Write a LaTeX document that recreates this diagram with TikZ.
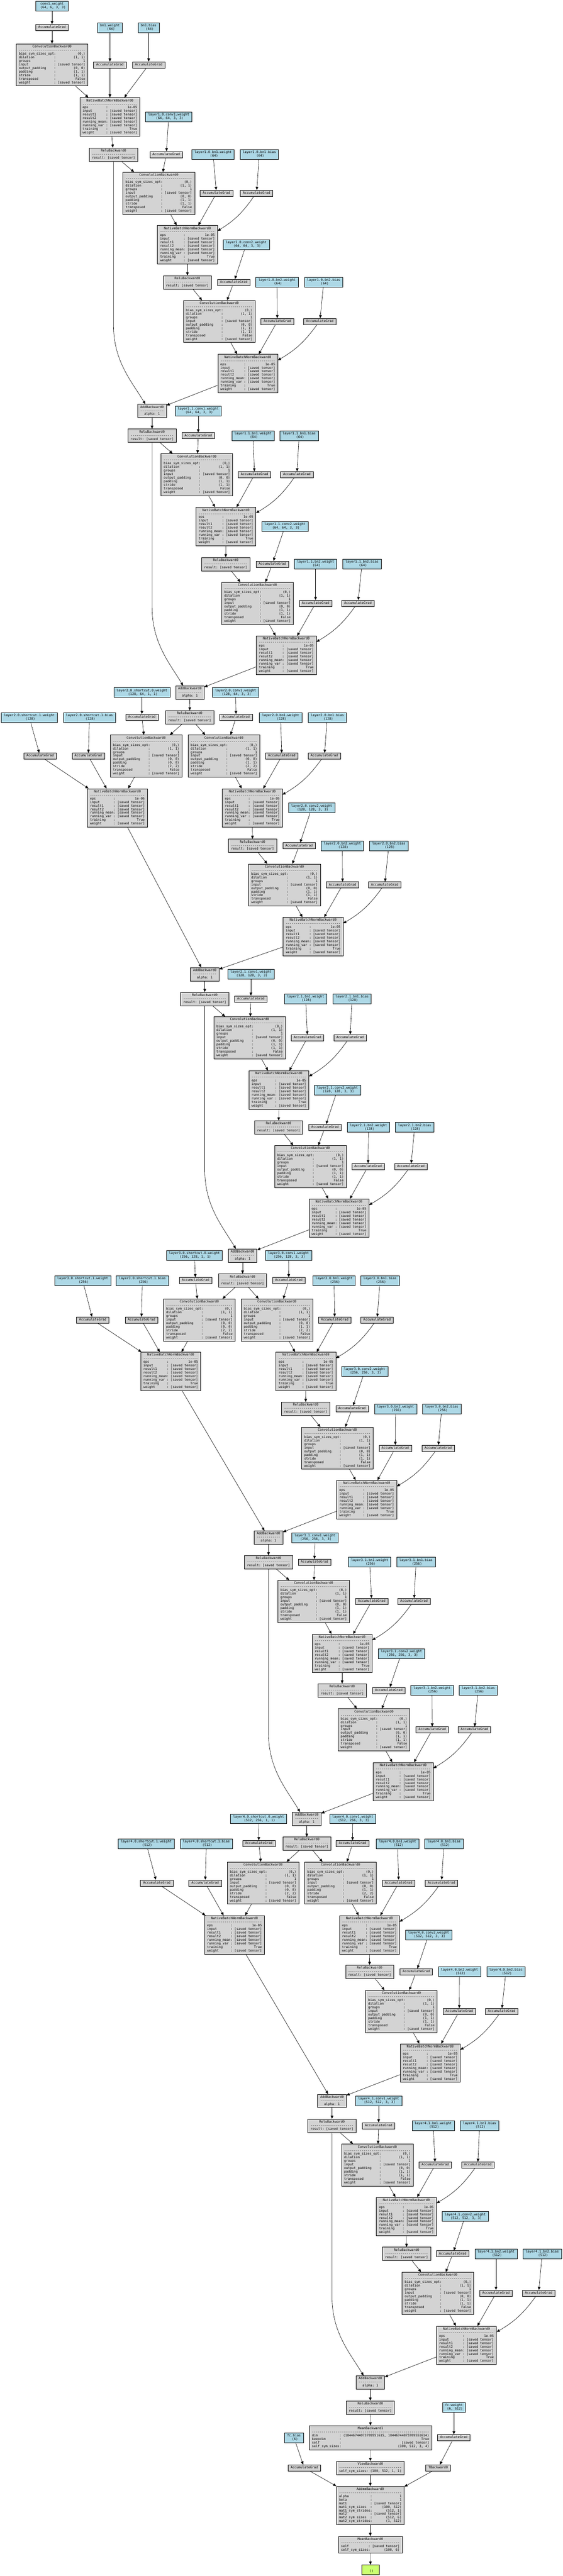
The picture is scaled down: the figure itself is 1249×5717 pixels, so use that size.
\documentclass[tikz,border=0pt]{standalone}
\usepackage{fontspec}
\setmonofont{DejaVu Sans Mono}
\usetikzlibrary{arrows.meta,calc}
\definecolor{tvblue}{HTML}{ADD8E6}
\definecolor{tvgrey}{HTML}{D3D3D3}
\definecolor{tvgreen}{HTML}{CAFF70}
\newlength\tvcw
\newcommand\tvfont{\ttfamily\fontsize{7.2}{7.95}\selectfont\settowidth{\tvcw}{0}}
\newcommand\tvkv[4]{\makebox[#3\tvcw][l]{#1}:\ \makebox[#4\tvcw][r]{#2}}
\newcommand\tvlines[1]{\begin{tabular}{@{}c@{}}#1\end{tabular}}
\ExplSyntaxOn
\cs_new:Npn \tvdash #1 { \prg_replicate:nn {#1} { - \kern 0pt } }
\ExplSyntaxOff
\tikzset{
  tvbox/.style={draw=black, line width=0.7pt, inner xsep=5.8pt, inner ysep=2.9pt,
                minimum width=39pt, font=\tvfont, text=black},
  fn/.style={tvbox, fill=tvgrey},
  param/.style={tvbox, fill=tvblue},
  outn/.style={tvbox, fill=tvgreen},
  conn/.style={draw=black, line width=0.7pt, -{Triangle[length=7pt,width=6pt]}}
}
\newcommand\mkParam[5]{\node[param] (#1) at (#2,#3) {\tvlines{#4\\\ #5}};}
\newcommand\mkAcc[3]{\node[fn] (#1) at (#2,#3) {\tvlines{AccumulateGrad}};}
\newcommand\mkRelu[3]{\node[fn] (#1) at (#2,#3) {\tvlines{ReluBackward0\\\tvdash{22}\\\tvkv{result}{[saved tensor]}{6}{14}}};}
\newcommand\mkAdd[3]{\node[fn] (#1) at (#2,#3) {\tvlines{AddBackward0\\\tvdash{12}\\\tvkv{alpha}{1}{5}{1}}};}
\newcommand\mkBN[3]{\node[fn] (#1) at (#2,#3) {\tvlines{NativeBatchNormBackward0\\\tvdash{28}\\
\tvkv{eps}{1e-05}{12}{14}\\
\tvkv{input}{[saved tensor]}{12}{14}\\
\tvkv{result1}{[saved tensor]}{12}{14}\\
\tvkv{result2}{[saved tensor]}{12}{14}\\
\tvkv{running\_mean}{[saved tensor]}{12}{14}\\
\tvkv{running\_var}{[saved tensor]}{12}{14}\\
\tvkv{training}{True}{12}{14}\\
\tvkv{weight}{[saved tensor]}{12}{14}}};}
\newcommand\mkConv[5]{\node[fn] (#1) at (#2,#3) {\tvlines{ConvolutionBackward0\\\tvdash{34}\\
\tvkv{bias\_sym\_sizes\_opt}{(0,)}{18}{14}\\
\tvkv{dilation}{(1, 1)}{18}{14}\\
\tvkv{groups}{1}{18}{14}\\
\tvkv{input}{[saved tensor]}{18}{14}\\
\tvkv{output\_padding}{(0, 0)}{18}{14}\\
\tvkv{padding}{#4}{18}{14}\\
\tvkv{stride}{#5}{18}{14}\\
\tvkv{transposed}{False}{18}{14}\\
\tvkv{weight}{[saved tensor]}{18}{14}}};}
\begin{document}
\begin{tikzpicture}[x=1pt,y=-1pt]
\useasboundingbox (0,0) rectangle (1249,5717);
\fill[white] (0,0) rectangle (1249,5717);
% ---- stem
\mkParam{pC1w}{115.5}{13.5}{conv1.weight}{(64, 6, 3, 3)}
\mkAcc{aC1w}{115.5}{61}
\mkParam{pBn1w}{244}{61}{bn1.weight}{(64)}
\mkParam{pBn1b}{330}{61}{bn1.bias}{(64)}
\mkConv{cv1}{115.5}{144}{(1, 1)}{(1, 1)}
\mkAcc{aBn1w}{244}{144}
\mkAcc{aBn1b}{330}{144}
\mkBN{bn1}{244}{259.5}
\mkParam{pL10c1w}{374.5}{259.5}{layer1.0.conv1.weight}{(64, 64, 3, 3)}
\mkRelu{r1}{252}{343}
\mkAcc{aL10c1w}{369}{343}
\mkParam{pL10b1w}{473}{343}{layer1.0.bn1.weight}{(64)}
\mkParam{pL10b1b}{575.5}{343}{layer1.0.bn1.bias}{(64)}
% ---- layer1.0
\mkConv{cvL10c1}{352.5}{429}{(1, 1)}{(1, 1)}
\mkAcc{aL10b1w}{480.5}{429}
\mkAcc{aL10b1b}{569.5}{429}
\mkBN{bnL10b1}{416}{543}
\mkParam{pL10c2w}{546.5}{543}{layer1.0.conv2.weight}{(64, 64, 3, 3)}
\mkRelu{rL10}{416}{626.5}
\mkAcc{aL10c2w}{519}{626.5}
\mkParam{pL10b2w}{615}{626.5}{layer1.0.bn2.weight}{(64)}
\mkParam{pL10b2b}{718.5}{626.5}{layer1.0.bn2.bias}{(64)}
\mkConv{cvL10c2}{486.5}{713.5}{(1, 1)}{(1, 1)}
\mkAcc{aL10b2w}{615.5}{713.5}
\mkAcc{aL10b2b}{710}{713.5}
\mkBN{bnL10b2}{550}{829}
\mkAdd{addL10}{337.5}{912}
\mkParam{pL11c1w}{440}{912}{layer1.1.conv1.weight}{(64, 64, 3, 3)}
% ---- layer1.1
\mkRelu{rAddL10}{337.5}{967}
\mkAcc{aL11c1w}{440}{967}
\mkParam{pL11b1w}{561.5}{967}{layer1.1.bn1.weight}{(64)}
\mkParam{pL11b1b}{664}{967}{layer1.1.bn1.bias}{(64)}
\mkConv{cvL11c1}{437}{1053.5}{(1, 1)}{(1, 1)}
\mkAcc{aL11b1w}{565}{1053.5}
\mkAcc{aL11b1b}{659}{1053.5}
\mkBN{bnL11b1}{501.5}{1168.5}
\mkParam{pL11c2w}{632.5}{1168.5}{layer1.1.conv2.weight}{(64, 64, 3, 3)}
\mkRelu{rL11}{501}{1252}
\mkAcc{aL11c2w}{604.5}{1252}
\mkParam{pL11b2w}{700.5}{1252}{layer1.1.bn2.weight}{(64)}
\mkParam{pL11b2b}{803.5}{1252}{layer1.1.bn2.bias}{(64)}
\mkConv{cvL11c2}{571.5}{1339}{(1, 1)}{(1, 1)}
\mkAcc{aL11b2w}{700.5}{1339}
\mkAcc{aL11b2b}{794.5}{1339}
\mkBN{bnL11b2}{635.5}{1454}
\mkAdd{addL11}{421.5}{1537}
\mkParam{pL20s0w}{315}{1537}{layer2.0.shortcut.0.weight}{(128, 64, 1, 1)}
\mkParam{pL20c1w}{523}{1537}{layer2.0.conv1.weight}{(128, 64, 3, 3)}
% ---- layer2.0
\mkRelu{rAddL11}{421}{1592}
\mkAcc{aL20s0w}{315}{1592}
\mkAcc{aL20c1w}{524}{1592}
\mkParam{pL20s1w}{65}{1592}{layer2.0.shortcut.1.weight}{(128)}
\mkParam{pL20s1b}{198.5}{1592}{layer2.0.shortcut.1.bias}{(128)}
\mkParam{pL20b1w}{623}{1592}{layer2.0.bn1.weight}{(128)}
\mkParam{pL20b1b}{726.5}{1592}{layer2.0.bn1.bias}{(128)}
\mkConv{cvL20s}{324.5}{1678}{(0, 0)}{(2, 2)}
\mkConv{cvL20c1}{497}{1678}{(1, 1)}{(2, 2)}
\mkAcc{aL20s1w}{89}{1678}
\mkAcc{aL20s1b}{196}{1678}
\mkAcc{aL20b1w}{625.5}{1678}
\mkAcc{aL20b1b}{720}{1678}
\mkBN{bnL20s}{260.5}{1793}
\mkBN{bnL20b1}{560}{1793}
\mkParam{pL20c2w}{692}{1793}{layer2.0.conv2.weight}{(128, 128, 3, 3)}
\mkRelu{rL20}{560.5}{1877}
\mkAcc{aL20c2w}{664}{1877}
\mkParam{pL20b2w}{760}{1877}{layer2.0.bn2.weight}{(128)}
\mkParam{pL20b2b}{863}{1877}{layer2.0.bn2.bias}{(128)}
\mkConv{cvL20c2}{631.5}{1964}{(1, 1)}{(1, 1)}
\mkAcc{aL20b2w}{760.5}{1964}
\mkAcc{aL20b2b}{854}{1964}
\mkBN{bnL20b2}{695}{2078.5}
\mkAdd{addL20}{454.5}{2162}
\mkParam{pL21c1w}{557}{2162}{layer2.1.conv1.weight}{(128, 128, 3, 3)}
% ---- layer2.1
\mkRelu{rAddL20}{454.5}{2217}
\mkAcc{aL21c1w}{557}{2217}
\mkParam{pL21b1w}{678.5}{2217}{layer2.1.bn1.weight}{(128)}
\mkParam{pL21b1b}{781.5}{2217}{layer2.1.bn1.bias}{(128)}
\mkConv{cvL21c1}{554}{2303}{(1, 1)}{(1, 1)}
\mkAcc{aL21b1w}{682.5}{2303}
\mkAcc{aL21b1b}{777}{2303}
\mkBN{bnL21b1}{619}{2419}
\mkParam{pL21c2w}{749}{2419}{layer2.1.conv2.weight}{(128, 128, 3, 3)}
\mkRelu{rL21}{618.5}{2502}
\mkAcc{aL21c2w}{721.5}{2502}
\mkParam{pL21b2w}{818}{2502}{layer2.1.bn2.weight}{(128)}
\mkParam{pL21b2b}{920.5}{2502}{layer2.1.bn2.bias}{(128)}
\mkConv{cvL21c2}{689}{2589}{(1, 1)}{(1, 1)}
\mkAcc{aL21b2w}{817}{2589}
\mkAcc{aL21b2b}{912}{2589}
\mkBN{bnL21b2}{752.5}{2703.5}
\mkAdd{addL21}{538.5}{2786.5}
\mkParam{pL30s0w}{431.5}{2786.5}{layer3.0.shortcut.0.weight}{(256, 128, 1, 1)}
\mkParam{pL30c1w}{640.5}{2786.5}{layer3.0.conv1.weight}{(256, 128, 3, 3)}
% ---- layer3.0
\mkRelu{rAddL21}{538.5}{2842}
\mkAcc{aL30s0w}{434}{2842}
\mkAcc{aL30c1w}{641}{2842}
\mkParam{pL30s1w}{183.5}{2842}{layer3.0.shortcut.1.weight}{(256)}
\mkParam{pL30s1b}{316}{2842}{layer3.0.shortcut.1.bias}{(256)}
\mkParam{pL30b1w}{741.5}{2842}{layer3.0.bn1.weight}{(256)}
\mkParam{pL30b1b}{843.5}{2842}{layer3.0.bn1.bias}{(256)}
\mkConv{cvL30s}{442.5}{2929.5}{(0, 0)}{(2, 2)}
\mkConv{cvL30c1}{615}{2929.5}{(1, 1)}{(2, 2)}
\mkAcc{aL30s1w}{206}{2929.5}
\mkAcc{aL30s1b}{314}{2929.5}
\mkAcc{aL30b1w}{743}{2929.5}
\mkAcc{aL30b1b}{837}{2929.5}
\mkBN{bnL30s}{379}{3043.5}
\mkBN{bnL30b1}{679}{3043.5}
\mkParam{pL30c2w}{809.5}{3043.5}{layer3.0.conv2.weight}{(256, 256, 3, 3)}
\mkRelu{rL30}{678.5}{3126.5}
\mkAcc{aL30c2w}{781.5}{3126.5}
\mkParam{pL30b2w}{878}{3126.5}{layer3.0.bn2.weight}{(256)}
\mkParam{pL30b2b}{980.5}{3126.5}{layer3.0.bn2.bias}{(256)}
\mkConv{cvL30c2}{749}{3214}{(1, 1)}{(1, 1)}
\mkAcc{aL30b2w}{877.5}{3214}
\mkAcc{aL30b2b}{972.5}{3214}
\mkBN{bnL30b2}{814}{3328}
\mkAdd{addL30}{596}{3412.5}
\mkParam{pL31c1w}{699}{3412.5}{layer3.1.conv1.weight}{(256, 256, 3, 3)}
% ---- layer3.1
\mkRelu{rAddL30}{596}{3467}
\mkAcc{aL31c1w}{698}{3467}
\mkParam{pL31b1w}{820.5}{3467}{layer3.1.bn1.weight}{(256)}
\mkParam{pL31b1b}{923.5}{3467}{layer3.1.bn1.bias}{(256)}
\mkConv{cvL31c1}{696}{3554}{(1, 1)}{(1, 1)}
\mkAcc{aL31b1w}{825}{3554}
\mkAcc{aL31b1b}{919}{3554}
\mkBN{bnL31b1}{759.5}{3669.5}
\mkParam{pL31c2w}{891}{3669.5}{layer3.1.conv2.weight}{(256, 256, 3, 3)}
\mkRelu{rL31}{759.5}{3751.5}
\mkAcc{aL31c2w}{863}{3751.5}
\mkParam{pL31b2w}{959}{3751.5}{layer3.1.bn2.weight}{(256)}
\mkParam{pL31b2b}{1061.5}{3751.5}{layer3.1.bn2.bias}{(256)}
\mkConv{cvL31c2}{830}{3839}{(1, 1)}{(1, 1)}
\mkAcc{aL31b2w}{959.5}{3839}
\mkAcc{aL31b2b}{1053}{3839}
\mkBN{bnL31b2}{895}{3954}
\mkAdd{addL31}{681}{4036.5}
\mkParam{pL40s0w}{574}{4036.5}{layer4.0.shortcut.0.weight}{(512, 256, 1, 1)}
\mkParam{pL40c1w}{783}{4036.5}{layer4.0.conv1.weight}{(512, 256, 3, 3)}
% ---- layer4.0
\mkRelu{rAddL31}{681}{4091.5}
\mkAcc{aL40s0w}{574.5}{4091.5}
\mkAcc{aL40c1w}{782.5}{4091.5}
\mkParam{pL40s1w}{324.5}{4091.5}{layer4.0.shortcut.1.weight}{(512)}
\mkParam{pL40s1b}{458}{4091.5}{layer4.0.shortcut.1.bias}{(512)}
\mkParam{pL40b1w}{882.5}{4091.5}{layer4.0.bn1.weight}{(512)}
\mkParam{pL40b1b}{985.5}{4091.5}{layer4.0.bn1.bias}{(512)}
\mkConv{cvL40s}{584}{4179}{(0, 0)}{(2, 2)}
\mkConv{cvL40c1}{756}{4179}{(1, 1)}{(2, 2)}
\mkAcc{aL40s1w}{348}{4179}
\mkAcc{aL40s1b}{455.5}{4179}
\mkAcc{aL40b1w}{885}{4179}
\mkAcc{aL40b1b}{980}{4179}
\mkBN{bnL40s}{520.5}{4294}
\mkBN{bnL40b1}{820}{4294}
\mkParam{pL40c2w}{951.5}{4294}{layer4.0.conv2.weight}{(512, 512, 3, 3)}
\mkRelu{rL40}{820.5}{4376}
\mkAcc{aL40c2w}{924}{4376}
\mkParam{pL40b2w}{1020}{4376}{layer4.0.bn2.weight}{(512)}
\mkParam{pL40b2b}{1123}{4376}{layer4.0.bn2.bias}{(512)}
\mkConv{cvL40c2}{891}{4464}{(1, 1)}{(1, 1)}
\mkAcc{aL40b2w}{1019.5}{4464}
\mkAcc{aL40b2b}{1113.5}{4464}
\mkBN{bnL40b2}{955}{4578.5}
\mkAdd{addL40}{737}{4662.5}
\mkParam{pL41c1w}{840.5}{4662.5}{layer4.1.conv1.weight}{(512, 512, 3, 3)}
% ---- layer4.1
\mkRelu{rAddL40}{737}{4717.5}
\mkAcc{aL41c1w}{840.5}{4717.5}
\mkParam{pL41b1w}{961.5}{4717.5}{layer4.1.bn1.weight}{(512)}
\mkParam{pL41b1b}{1064.5}{4717.5}{layer4.1.bn1.bias}{(512)}
\mkConv{cvL41c1}{837.5}{4805}{(1, 1)}{(1, 1)}
\mkAcc{aL41b1w}{966}{4805}
\mkAcc{aL41b1b}{1060.5}{4805}
\mkBN{bnL41b1}{902}{4919}
\mkParam{pL41c2w}{1032.5}{4919}{layer4.1.conv2.weight}{(512, 512, 3, 3)}
\mkRelu{rL41}{902.5}{5002}
\mkAcc{aL41c2w}{1005}{5002}
\mkParam{pL41b2w}{1101}{5002}{layer4.1.bn2.weight}{(512)}
\mkParam{pL41b2b}{1203.5}{5002}{layer4.1.bn2.bias}{(512)}
\mkConv{cvL41c2}{972}{5089.5}{(1, 1)}{(1, 1)}
\mkAcc{aL41b2w}{1101}{5089.5}
\mkAcc{aL41b2b}{1195.5}{5089.5}
\mkBN{bnL41b2}{1035.5}{5205}
\mkAdd{addL41}{822}{5287.5}
% ---- head
\mkRelu{rAddL41}{822}{5343}
\mkParam{pFcw}{1007.5}{5343}{fc.weight}{(6, 512)}
\node[fn] (mean1) at (822.5,5410) {\tvlines{MeanBackward1\\\tvdash{60}\\
\tvkv{dim}{(18446744073709551615, 18446744073709551614)}{14}{44}\\
\tvkv{keepdim}{True}{14}{44}\\
\tvkv{self}{[saved tensor]}{14}{44}\\
\tvkv{self\_sym\_sizes}{(100, 512, 3, 4)}{14}{44}}};
\mkAcc{aFcw}{1007.5}{5410}
\mkParam{pFcb}{652.5}{5410}{fc.bias}{(6)}
\node[fn] (view) at (822,5477) {\tvlines{ViewBackward0\\\tvdash{32}\\
\tvkv{self\_sym\_sizes}{(100, 512, 1, 1)}{14}{16}}};
\mkAcc{aFcb}{675.5}{5477}
\node[fn] (tb) at (972.5,5477) {\tvlines{TBackward0}};
\node[fn] (addmm) at (822,5560.5) {\tvlines{AddmmBackward0\\\tvdash{32}\\
\tvkv{alpha}{1}{16}{14}\\
\tvkv{beta}{1}{16}{14}\\
\tvkv{mat1}{[saved tensor]}{16}{14}\\
\tvkv{mat1\_sym\_sizes}{(100, 512)}{16}{14}\\
\tvkv{mat1\_sym\_strides}{(512, 1)}{16}{14}\\
\tvkv{mat2}{[saved tensor]}{16}{14}\\
\tvkv{mat2\_sym\_sizes}{(512, 6)}{16}{14}\\
\tvkv{mat2\_sym\_strides}{(1, 512)}{16}{14}}};
\node[fn] (mean0) at (822,5647.5) {\tvlines{MeanBackward0\\\tvdash{30}\\
\tvkv{self}{[saved tensor]}{14}{14}\\
\tvkv{self\_sym\_sizes}{(100, 6)}{14}{14}}};
\node[outn] (out) at (822.5,5703) {\tvlines{\\\ ()}};
% ---- edges
\foreach \ea/\eb in {pC1w/aC1w, aC1w/cv1, pBn1w/aBn1w, pBn1b/aBn1b, cv1/bn1,
  aBn1w/bn1, aBn1b/bn1, bn1/r1, pFcw/aFcw, aFcw/tb, tb/addmm, pFcb/aFcb,
  aFcb/addmm, rAddL41/mean1, mean1/view, view/addmm, addmm/mean0, mean0/out}
  \draw[conn] (\ea) -- (\eb);
\foreach \blk/\inp in {L10/r1, L11/rAddL10, L20/rAddL11, L21/rAddL20,
  L30/rAddL21, L31/rAddL30, L40/rAddL31, L41/rAddL40}{
  \draw[conn] (p\blk c1w) -- (a\blk c1w);
  \draw[conn] (p\blk b1w) -- (a\blk b1w);
  \draw[conn] (p\blk b1b) -- (a\blk b1b);
  \draw[conn] (\inp) -- (cv\blk c1);
  \draw[conn] (a\blk c1w) -- (cv\blk c1);
  \draw[conn] (cv\blk c1) -- (bn\blk b1);
  \draw[conn] (a\blk b1w) -- (bn\blk b1);
  \draw[conn] (a\blk b1b) to[bend left=12] (bn\blk b1);
  \draw[conn] (bn\blk b1) -- (r\blk);
  \draw[conn] (p\blk c2w) -- (a\blk c2w);
  \draw[conn] (r\blk) -- (cv\blk c2);
  \draw[conn] (a\blk c2w) -- (cv\blk c2);
  \draw[conn] (p\blk b2w) -- (a\blk b2w);
  \draw[conn] (p\blk b2b) -- (a\blk b2b);
  \draw[conn] (cv\blk c2) -- (bn\blk b2);
  \draw[conn] (a\blk b2w) -- (bn\blk b2);
  \draw[conn] (a\blk b2b) to[bend left=12] (bn\blk b2);
  \draw[conn] (bn\blk b2) -- (add\blk);
  \draw[conn] (add\blk) -- (rAdd\blk);
}
\foreach \blk/\inp in {L20/rAddL11, L30/rAddL21, L40/rAddL31}{
  \draw[conn] (p\blk s0w) -- (a\blk s0w);
  \draw[conn] (p\blk s1w) -- (a\blk s1w);
  \draw[conn] (p\blk s1b) -- (a\blk s1b);
  \draw[conn] (\inp) -- (cv\blk s);
  \draw[conn] (a\blk s0w) -- (cv\blk s);
  \draw[conn] (cv\blk s) -- (bn\blk s);
  \draw[conn] (a\blk s1w) -- (bn\blk s);
  \draw[conn] (a\blk s1b) -- (bn\blk s);
  \draw[conn] (bn\blk s) -- (add\blk);
}
\foreach \blk/\inp in {L10/r1, L11/rAddL10, L21/rAddL20, L31/rAddL30, L41/rAddL40}
  \draw[conn] (\inp.south) -- ($(\inp.south |- add\blk.north)+(0,-175)$)
    .. controls ($(\inp.south |- add\blk.north)+(0,-95)$) and ($(add\blk.north)+(-45,-50)$)
    .. ($(add\blk.north)+(-15,0)$);
\end{tikzpicture}
\end{document}
